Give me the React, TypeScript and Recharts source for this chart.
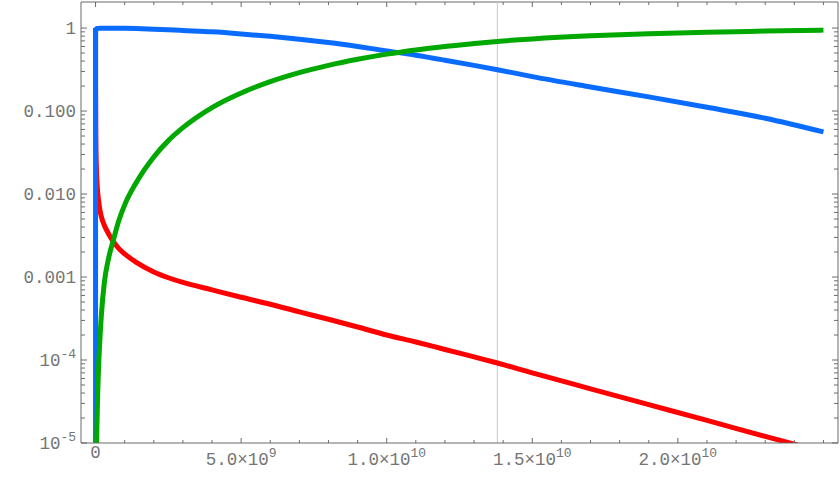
import { LineChart, Line, XAxis, YAxis, ReferenceLine } from "recharts";

// time in billions of years
const TIME = [
  0, 0.0002, 0.001, 0.01, 0.03, 0.06, 0.1, 0.15, 0.2, 0.3, 0.45, 0.6, 0.8, 1, 1.4, 2, 2.5, 3, 4, 5,
  6, 7, 8, 9, 10, 11, 12, 13, 13.8, 15, 17, 19, 21, 23, 25,
];

// radiation (red)
const RADIATION = [
  1, 0.6, 0.2, 0.045, 0.02, 0.012, 0.0085, 0.0064, 0.0053, 0.0042, 0.0033, 0.0027, 0.0022, 0.0019,
  0.0015, 0.00115, 0.00098, 0.00086, 0.0007, 0.00057, 0.00047, 0.00038, 0.00031, 0.00025, 0.0002,
  0.000165, 0.000134, 0.000109, 0.000092, 0.00007, 0.000045, 0.000029, 0.0000187, 0.000012, 0.0000078,
];

// matter (blue)
const MATTER = [
  1e-7, 0.4, 0.8, 0.955, 0.98, 0.988, 0.991, 0.993, 0.994, 0.995, 0.995, 0.994, 0.993, 0.991, 0.985,
  0.97, 0.955, 0.936, 0.9, 0.85, 0.795, 0.735, 0.67, 0.6, 0.53, 0.47, 0.41, 0.355, 0.315, 0.26, 0.195,
  0.148, 0.111, 0.082, 0.056,
];

// dark energy (green)
const DARK_ENERGY = [
  1e-9, 1e-9, 1e-9, 1e-7, 6e-6, 2.5e-5, 7.5e-5, 1.8e-4, 3.5e-4, 8.5e-4, 1.7e-3, 2.7e-3, 4.8e-3, 7.4e-3,
  0.0138, 0.028, 0.044, 0.063, 0.11, 0.165, 0.226, 0.29, 0.355, 0.42, 0.485, 0.545, 0.6, 0.65, 0.69,
  0.74, 0.805, 0.852, 0.889, 0.919, 0.944,
];

const NOW = 13.8;

const X_MAJOR = [0, 5, 10, 15, 20];
const X_LABELS = ["0", "5.0×10^9", "1.0×10^10", "1.5×10^10", "2.0×10^10"];
const Y_MAJOR = [1e-5, 1e-4, 0.001, 0.01, 0.1, 1];
const Y_LABELS = ["10^-5", "10^-4", "0.001", "0.010", "0.100", "1"];

const X_DOMAIN: [number, number] = [-0.5, 25.5];
const Y_DOMAIN: [number, number] = [1e-5, 2.06];

const data = TIME.map((t, i) => ({
  t,
  radiation: RADIATION[i],
  matter: MATTER[i],
  dark: DARK_ENERGY[i],
}));

const xTicks: number[] = [];
for (let i = 0; i <= 25; i++) xTicks.push(i);

const yTicks: number[] = [];
Y_MAJOR.forEach((v, i) => {
  yTicks.push(v);
  if (i < Y_MAJOR.length - 1) for (let m = 2; m <= 9; m++) yTicks.push(v * m);
});

const WIDTH = 840;
const HEIGHT = 480;
const MARGIN = { top: 2, right: 2, bottom: 0, left: 0 };
const Y_AXIS_W = 81;
const X_AXIS_H = 37;
const PLOT_TOP = MARGIN.top;
const PLOT_RIGHT = WIDTH - MARGIN.right;

const AXIS = "#6b6b6b";
const LABEL = "#757575";
const FONT = "'Liberation Mono', monospace";

function TickText({ x, y, anchor, text }: { x: number; y: number; anchor: string; text: string }) {
  const [base, exp] = text.split("^");
  return (
    <text x={x} y={y} textAnchor={anchor} fontFamily={FONT} fontSize={17.5} fill={LABEL}>
      {base}
      {exp && (
        <tspan dy={-8} fontSize={13}>
          {exp}
        </tspan>
      )}
    </text>
  );
}

function XTick(props: any) {
  const { x, y, payload } = props;
  const idx = X_MAJOR.indexOf(payload.value);
  const len = idx >= 0 ? 5 : 3;
  const label = idx >= 0 ? X_LABELS[idx] : null;
  return (
    <g>
      <line x1={x} x2={x} y1={y} y2={y - len} stroke={AXIS} />
      <line x1={x} x2={x} y1={PLOT_TOP} y2={PLOT_TOP + len} stroke={AXIS} />
      {label && (
        <TickText x={x} y={y + (label.includes("^") ? 22 : 15)} anchor="middle" text={label} />
      )}
    </g>
  );
}

function YTick(props: any) {
  const { x, y, payload } = props;
  const idx = Y_MAJOR.indexOf(payload.value);
  const len = idx >= 0 ? 6 : 4;
  const label = idx >= 0 ? Y_LABELS[idx] : null;
  return (
    <g>
      <line x1={x} x2={x + len} y1={y} y2={y} stroke={AXIS} />
      <line x1={PLOT_RIGHT} x2={PLOT_RIGHT - len} y1={y} y2={y} stroke={AXIS} />
      {label && <TickText x={x - 5} y={y + 6} anchor="end" text={label} />}
    </g>
  );
}

export default function App() {
  return (
    <div style={{ position: "absolute", left: 0, top: 0, background: "#fff" }}>
      <LineChart width={WIDTH} height={HEIGHT} data={data} margin={MARGIN}>
        <XAxis
          type="number"
          dataKey="t"
          domain={X_DOMAIN}
          allowDataOverflow
          ticks={xTicks}
          interval={0}
          tickLine={false}
          tickSize={0}
          tickMargin={0}
          height={X_AXIS_H}
          stroke={AXIS}
          tick={<XTick />}
        />
        <YAxis
          scale="log"
          domain={Y_DOMAIN}
          allowDataOverflow
          ticks={yTicks}
          interval={0}
          tickLine={false}
          tickSize={0}
          tickMargin={0}
          width={Y_AXIS_W}
          stroke={AXIS}
          tick={<YTick />}
        />
        <ReferenceLine y={Y_DOMAIN[1]} stroke={AXIS} />
        <ReferenceLine x={X_DOMAIN[1]} stroke={AXIS} />
        <ReferenceLine x={NOW} stroke="#c8c8c8" />
        <Line
          dataKey="radiation"
          type="monotone"
          stroke="#ff0000"
          strokeWidth={5}
          dot={false}
          isAnimationActive={false}
        />
        <Line
          dataKey="matter"
          type="monotone"
          stroke="#0a6cff"
          strokeWidth={5}
          dot={false}
          isAnimationActive={false}
        />
        <Line
          dataKey="dark"
          type="monotone"
          stroke="#00a800"
          strokeWidth={5}
          dot={false}
          isAnimationActive={false}
        />
      </LineChart>
    </div>
  );
}
